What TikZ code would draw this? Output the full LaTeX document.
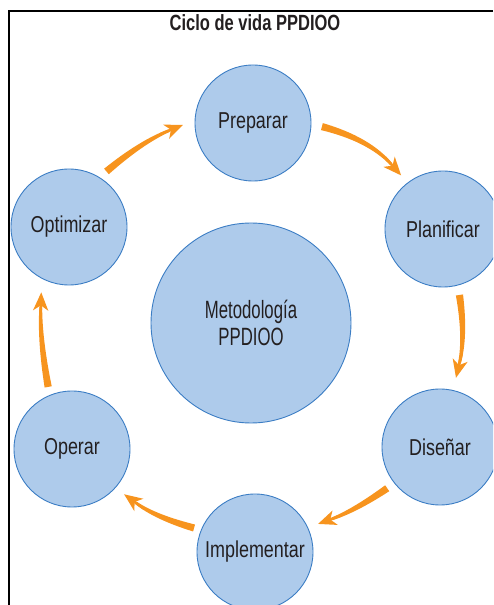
\documentclass[tikz,border=0pt]{standalone}
\usepackage{fontspec}
\newfontfamily\cond[FakeStretch=0.78]{Liberation Sans}
\newfontfamily\condcore[FakeStretch=0.67]{Liberation Sans}
\newfontfamily\condtitle[FakeStretch=0.75]{Liberation Sans}
\usetikzlibrary{calc,arrows.meta}

\definecolor{phasefill}{HTML}{AECBEB}
\definecolor{phaseline}{HTML}{3B7DC4}
\definecolor{flow}{HTML}{F7941E}
\definecolor{ink}{HTML}{231F20}

% Tapered curved arrow along a quadratic curve:
% #1 start, #2 tip, #3 outward offset of the control point
\newcommand\flowarrow[3]{%
  \coordinate (fA) at (#1);
  \coordinate (fB) at (#2);
  \coordinate (fC) at ($(fA)!0.5!(fB)!#3!90:(fB)$);
  \coordinate (fE) at ($(fB)!15pt!(fC)$);
  \coordinate (fH) at ($(fB)!24pt!(fC)$);
  \coordinate (fL) at ($(fA)!3.6pt!90:(fC)$);
  \coordinate (fR) at ($(fA)!3.6pt!-90:(fC)$);
  \coordinate (fEL) at ($(fE)!1.4pt!-90:(fC)$);
  \coordinate (fER) at ($(fE)!1.4pt!90:(fC)$);
  \coordinate (fCL) at ($(fC)+($(fA)!2.5pt!90:(fE)$)-(fA)$);
  \coordinate (fCR) at ($(fC)+($(fA)!2.5pt!-90:(fE)$)-(fA)$);
  % shaft, thinning towards the head
  \fill[flow] (fL) .. controls ($(fL)!2/3!(fCL)$) and ($(fEL)!2/3!(fCL)$) .. (fEL)
              -- (fER)
              .. controls ($(fER)!2/3!(fCR)$) and ($(fR)!2/3!(fCR)$) .. (fR) -- cycle;
  % head
  \draw[flowline] (fH) -- (fB);
}

\begin{document}
\begin{tikzpicture}[x=1pt,y=1pt,
  phase/.style={circle, draw=phaseline, line width=0.9pt, fill=phasefill,
    minimum size=116pt, inner sep=0pt, font=\cond\fontsize{23}{27}\selectfont,
    text=ink},
  core/.style={phase, minimum size=200pt, align=center,
    font=\condcore\fontsize{25}{27}\selectfont},
  flowline/.style={draw=flow, line width=2.6pt,
    -{Stealth[length=18pt, width=15pt, inset=5pt]}},
  frame/.style={draw=black, line width=2pt}
]
\useasboundingbox (0,0) rectangle (493,605);
\clip (0,0) rectangle (493,605);

% frame and title
\draw[frame] (493,593.5) -- (8.5,593.5) -- (8.5,0);
\node[font=\condtitle\bfseries\fontsize{22}{26}\selectfont, text=ink] (title)
  at (255,582) {Ciclo de vida PPDIOO};

% phases of the cycle
\node[core]  (met)  at (251,282) {Metodología\\PPDIOO};
\node[phase] (prep) at (253,482) {Preparar};
\node[phase] (plan) at (443,376) {Planificar};
\node[phase] (dis)  at (440,158) {Diseñar};
\node[phase] (impl) at (255,53)  {Implementar};
\node[phase] (op)   at (72,156)  {Operar};
\node[phase] (opt)  at (69,378)  {Optimizar};

% clockwise flow between phases
\flowarrow{$(opt)+(56:67)$}{$(prep)+(181.5:70)$}{7pt}
\flowarrow{$(prep)+(-3:69)$}{$(plan)+(128:68)$}{14pt}
\flowarrow{$(plan)+(-76:68)$}{$(dis)+(77:71)$}{8pt}
\flowarrow{$(dis)+(218:67)$}{$(impl)+(24:69)$}{5pt}
\flowarrow{$(impl)+(158.5:65.5)$}{$(op)+(-41:69)$}{7pt}
\flowarrow{$(op)+(111:66.5)$}{$(opt)+(247:71)$}{5pt}
\end{tikzpicture}
\end{document}
